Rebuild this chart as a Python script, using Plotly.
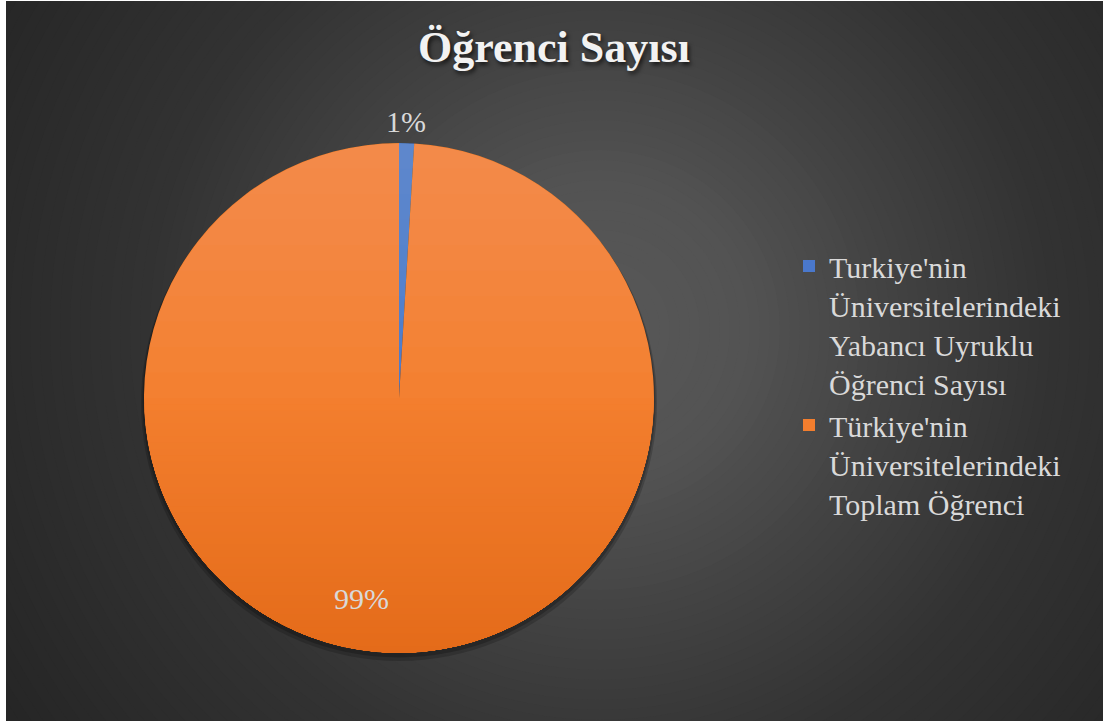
import numpy as np
import plotly.graph_objects as go

# --- data -------------------------------------------------------------
legend_names = [
    "Turkiye'nin<br>Üniversitelerindeki<br>Yabancı Uyruklu<br>Öğrenci Sayısı",
    "Türkiye'nin<br>Üniversitelerindeki<br>Toplam Öğrenci",
]
shares = [0.95, 99.05]          # percent of the whole
slice_colors = ["#4A78CC", "#F37E2E"]

# --- canvas geometry (pixels) ------------------------------------------
W, H = 1107, 721
CX, CY, R = 399, 398, 255       # pie centre and radius
PANEL = (6, 1, 1103, 721)       # dark chart panel inside the white frame
BG_CENTRE = (600, 330)


def fx(x):
    return x / W


def fy(y):
    return 1 - y / H


def grey(v):
    v = int(round(v))
    return f"rgb({v},{v},{v})"


shapes = []

# dark panel with a soft radial glow
shapes.append(dict(type="rect", xref="paper", yref="paper", layer="below",
                   x0=fx(0), x1=fx(W), y0=fy(H), y1=fy(0),
                   fillcolor=grey(38), line_width=0))
glow_d = [0, 150, 300, 450, 700, 800]
glow_v = [88, 83, 66, 51, 38, 38]
for r in np.arange(780, 4, -10):
    shapes.append(dict(type="circle", xref="paper", yref="paper", layer="below",
                       x0=fx(BG_CENTRE[0] - r), x1=fx(BG_CENTRE[0] + r),
                       y0=fy(BG_CENTRE[1] + r), y1=fy(BG_CENTRE[1] - r),
                       fillcolor=grey(np.interp(r, glow_d, glow_v)), line_width=0))

# white frame around the panel
for x0, y0, x1, y1 in [(0, 0, PANEL[0], H), (PANEL[2], 0, W, H), (0, 0, W, PANEL[1])]:
    shapes.append(dict(type="rect", xref="paper", yref="paper", layer="below",
                       x0=fx(x0), x1=fx(x1), y0=fy(y1), y1=fy(y0),
                       fillcolor="white", line_width=0))

# drop shadow under the pie
for dy, dr, a in [(5, 3, 0.18), (3, 1.5, 0.22)]:
    shapes.append(dict(type="circle", xref="paper", yref="paper", layer="below",
                       x0=fx(CX - R - dr), x1=fx(CX + R + dr),
                       y0=fy(CY + dy + R + dr), y1=fy(CY + dy - R - dr),
                       fillcolor=f"rgba(0,0,0,{a})", line_width=0))


def segment_path(rr, half_angle, top=True):
    th = np.linspace(-half_angle, half_angle, 120)
    xs = CX + rr * np.sin(th)
    ys = CY - rr * np.cos(th) if top else CY + rr * np.cos(th)
    pts = [f"{fx(x):.6f},{fy(y):.6f}" for x, y in zip(xs, ys)]
    return "M" + " L".join(pts) + " Z"


RR = R - 0.4

# upper half: a light sheen that fades out towards the centre
N_TOP = 10
for k in range(1, N_TOP + 1):
    depth = RR * k / N_TOP
    half = np.arccos(np.clip((RR - depth) / RR, -1, 1))
    shapes.append(dict(type="path", xref="paper", yref="paper", layer="above",
                       path=segment_path(RR, half, top=True),
                       fillcolor="rgba(255,255,255,0.016)", line_width=0))

# lower half (orange only): deepen the tone towards the bottom edge
mid_rgb = np.array([243, 126, 46])
low_rgb = np.array([228, 107, 25])
N_LOW = 40
for k in range(N_LOW, 0, -1):
    depth = RR * k / N_LOW                  # distance from the bottom edge
    half = np.arccos(np.clip((RR - depth) / RR, -1, 1))
    c = mid_rgb + (low_rgb - mid_rgb) * (1 - k / N_LOW)
    shapes.append(dict(type="path", xref="paper", yref="paper", layer="above",
                       path=segment_path(RR, half, top=False),
                       fillcolor="rgb({},{},{})".format(*np.round(c).astype(int)),
                       line_width=0))

fig = go.Figure(go.Pie(
    labels=legend_names,
    values=shares,
    sort=False,
    direction="clockwise",
    rotation=0,
    marker=dict(colors=slice_colors, line=dict(width=0)),
    textinfo="none",
    hoverinfo="label+percent",
    domain=dict(x=[fx(CX - R), fx(CX + R)], y=[fy(CY + R), fy(CY - R)]),
))

# percentage labels
total = sum(shares)
pct_text = [f"{v / total * 100:.0f}%" for v in shares]
label_pos = [(406, 121), (361, 598)]
annotations = [
    dict(text=t, x=fx(px), y=fy(py), xref="paper", yref="paper",
         xanchor="center", yanchor="middle", showarrow=False,
         font=dict(family="Liberation Serif", size=30, color="#D9D9D9"))
    for t, (px, py) in zip(pct_text, label_pos)
]

fig.update_layout(
    width=W, height=H,
    margin=dict(l=0, r=0, t=0, b=0),
    paper_bgcolor="white",
    plot_bgcolor="rgba(0,0,0,0)",
    shapes=shapes,
    annotations=annotations,
    title=dict(
        text="Öğrenci Sayısı",
        x=fx(554), xanchor="center", y=fy(47), yanchor="middle",
        font=dict(family="Liberation Serif", size=44, color="#F2F2F2",
                  weight="bold", shadow="2px 3px 4px rgba(0,0,0,0.65)"),
    ),
    legend=dict(
        x=fx(789), y=fy(240), xanchor="left", yanchor="top",
        valign="top",
        font=dict(family="Liberation Serif", size=30, color="#D9D9D9"),
        bgcolor="rgba(0,0,0,0)",
    ),
    showlegend=True,
)

fig.write_html("out.html")
